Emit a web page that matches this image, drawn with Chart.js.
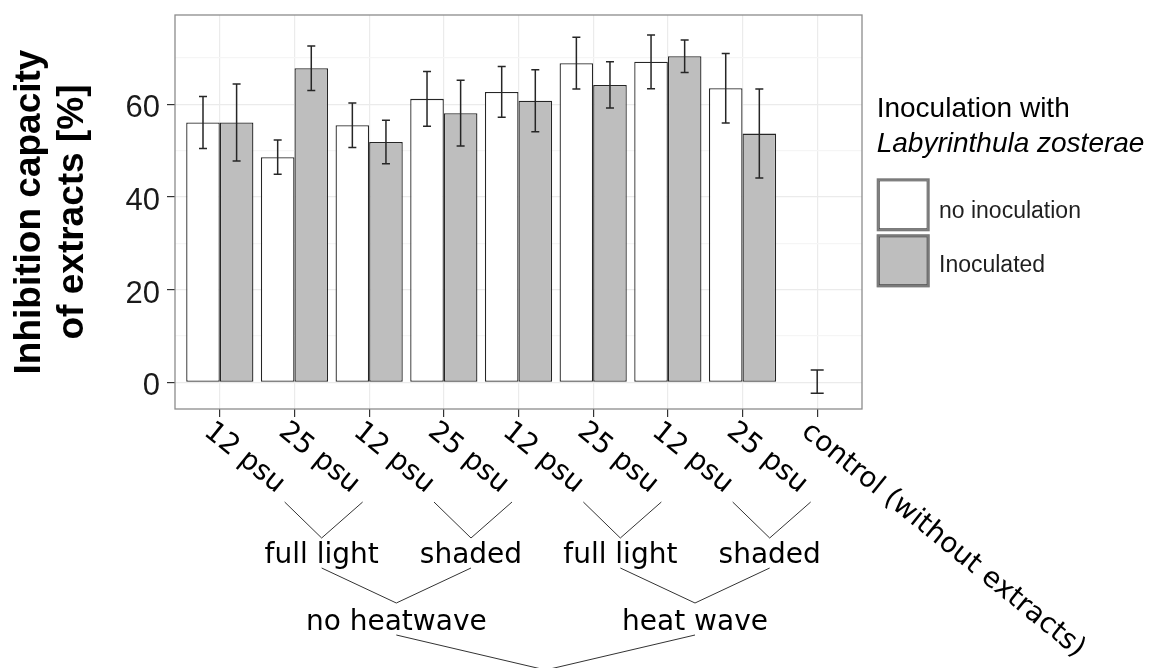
<!DOCTYPE html>
<html><head><meta charset="utf-8">
<script src="https://cdn.jsdelivr.net/npm/chart.js@4.4.1/dist/chart.umd.min.js"></script>
<style>html,body{margin:0;padding:0;background:#fff;}canvas{display:block;}</style>
</head><body>
<canvas id="c" width="1153" height="668"></canvas>
<script>
const categories = ['12 psu','25 psu','12 psu','25 psu','12 psu','25 psu','12 psu','25 psu','control (without extracts)'];
const noInocMean = [56.1, 48.6, 55.5, 61.2, 62.7, 68.9, 69.2, 63.5];
const noInocErr  = [5.6, 3.7, 4.8, 5.9, 5.5, 5.6, 5.8, 7.5];
const inocMean   = [56.1, 67.8, 51.9, 58.1, 60.8, 64.2, 70.4, 53.7];
const inocErr    = [8.3, 4.8, 4.7, 7.1, 6.7, 5.0, 3.5, 9.6];
const controlMean = 0.15;
const controlErr  = 2.5;
const yTicks = [0, 20, 40, 60];
const lightGroups = [
  {label: 'full light', from: 0, to: 1},
  {label: 'shaded', from: 2, to: 3},
  {label: 'full light', from: 4, to: 5},
  {label: 'shaded', from: 6, to: 7}
];
const heatGroups = [
  {label: 'no heatwave', from: 0, to: 1},
  {label: 'heat wave', from: 2, to: 3}
];
const seriesNames = ['no inoculation', 'Inoculated'];
const legendTitle = ['Inoculation with', 'Labyrinthula zosterae'];
const yTitle = ['Inhibition capacity', 'of extracts [%]'];

const WHITE = '#ffffff', GREY = '#bebebe', EDGE = '#262626';

const annot = {
  id: 'annot',
  afterDatasetsDraw(chart) {
    const ctx = chart.ctx, xs = chart.scales.x, ys = chart.scales.y;
    ctx.save();
    ctx.strokeStyle = '#262626';
    ctx.lineWidth = 1.5;
    const drawErr = (x, m, e, cap) => {
      const yt = ys.getPixelForValue(m + e), yb = ys.getPixelForValue(m - e);
      ctx.beginPath();
      ctx.moveTo(x, yt); ctx.lineTo(x, yb);
      ctx.moveTo(x - cap, yt); ctx.lineTo(x + cap, yt);
      ctx.moveTo(x - cap, yb); ctx.lineTo(x + cap, yb);
      ctx.stroke();
    };
    const means = [noInocMean, inocMean], errs = [noInocErr, inocErr];
    [0, 1].forEach(d => {
      chart.getDatasetMeta(d).data.forEach((el, i) => drawErr(el.x, means[d][i], errs[d][i], 4));
    });
    drawErr(xs.getPixelForValue(categories.length), controlMean, controlErr, 6.5);
    ctx.restore();
  },
  afterDraw(chart) {
    const ctx = chart.ctx, xs = chart.scales.x, a = chart.chartArea;
    ctx.save();
    // panel border
    ctx.strokeStyle = '#8c8c8c';
    ctx.lineWidth = 1.3;
    ctx.strokeRect(a.left, a.top, a.right - a.left, a.bottom - a.top);

    // rotated tick labels
    const B = a.bottom;
    ctx.fillStyle = '#000';
    ctx.font = '28px "DejaVu Sans"';
    ctx.textAlign = 'left';
    ctx.textBaseline = 'alphabetic';
    const ang = 39 * Math.PI / 180;
    categories.forEach((c, i) => {
      const x = xs.getPixelForValue(i + 1);
      ctx.save();
      ctx.translate(x - 17, B + 25);
      ctx.rotate(ang);
      ctx.fillText(c, 0, 0);
      ctx.restore();
    });

    // brackets and group labels
    const px = i => xs.getPixelForValue(i + 1);
    const shift = 64.5;
    ctx.strokeStyle = '#333';
    ctx.lineWidth = 1;
    ctx.font = '28px "DejaVu Sans"';
    ctx.textAlign = 'center';
    const gx = lightGroups.map(g => (px(g.from) + px(g.to)) / 2 + shift);
    lightGroups.forEach((g, k) => {
      const x = gx[k];
      ctx.beginPath();
      ctx.moveTo(x - 37, B + 93); ctx.lineTo(x, B + 129); ctx.lineTo(x + 41, B + 93);
      ctx.stroke();
      ctx.fillText(g.label, x, B + 154);
    });
    const hx = heatGroups.map(h => (gx[h.from] + gx[h.to]) / 2);
    heatGroups.forEach((h, k) => {
      const x = hx[k];
      ctx.beginPath();
      ctx.moveTo(gx[h.from], B + 159); ctx.lineTo(x, B + 194); ctx.lineTo(gx[h.to], B + 159);
      ctx.stroke();
      ctx.fillText(h.label, x, B + 221);
    });
    const mid = (hx[0] + hx[1]) / 2;
    ctx.beginPath();
    ctx.moveTo(hx[0], B + 226); ctx.lineTo(mid, B + 261); ctx.lineTo(hx[1], B + 226);
    ctx.stroke();

    // legend
    const L = a.right + 14.7;
    ctx.textAlign = 'left';
    ctx.fillStyle = '#000';
    ctx.font = '28px "Liberation Sans"';
    ctx.fillText(legendTitle[0], L, 116.7);
    ctx.font = 'italic 28px "Liberation Sans"';
    ctx.fillText(legendTitle[1], L, 151.7);
    const keys = [{fill: WHITE, y: 178.3, ty: 217.5}, {fill: GREY, y: 234.3, ty: 271.7}];
    ctx.font = '23px "Liberation Sans"';
    keys.forEach((k, i) => {
      ctx.fillStyle = k.fill;
      ctx.fillRect(L, k.y, 53, 53);
      ctx.strokeStyle = '#7a7a7a';
      ctx.lineWidth = 2.2;
      ctx.strokeRect(L + 1.1, k.y + 1.1, 50.8, 50.8);
      ctx.strokeStyle = '#444';
      ctx.lineWidth = 0.8;
      ctx.strokeRect(L + 2.6, k.y + 2.6, 47.8, 47.8);
      ctx.fillStyle = '#1f1f1f';
      ctx.fillText(seriesNames[i], L + 62.3, k.ty);
    });
    ctx.restore();
  }
};

new Chart(document.getElementById('c'), {
  type: 'bar',
  data: {
    datasets: [
      {label: seriesNames[0], data: noInocMean.map((v, i) => ({x: i + 1, y: v})),
       backgroundColor: WHITE, borderColor: EDGE, borderWidth: 1.3, borderSkipped: false},
      {label: seriesNames[1], data: inocMean.map((v, i) => ({x: i + 1, y: v})),
       backgroundColor: GREY, borderColor: EDGE, borderWidth: 1.3, borderSkipped: false}
    ]
  },
  options: {
    responsive: false,
    animation: false,
    devicePixelRatio: 1,
    categoryPercentage: 0.9,
    barPercentage: 1.0,
    layout: {padding: {left: 0, top: 15, right: 291, bottom: 0}},
    plugins: {legend: {display: false}, tooltip: {enabled: false}},
    scales: {
      x: {
        type: 'linear', min: 0.4, max: 9.6, offset: false,
        afterFit: s => { s.height = 259; s.paddingLeft = 0; s.paddingRight = 0; },
        ticks: {stepSize: 1, includeBounds: false, display: false, autoSkip: false},
        grid: {offset: false, color: '#ebebeb', lineWidth: 1.2, tickLength: 8, tickColor: '#333', tickWidth: 1.2},
        border: {display: false}
      },
      y: {
        min: -5.76, max: 79.3,
        afterFit: s => { s.width = 175; s.paddingTop = 0; s.paddingBottom = 0; },
        ticks: {stepSize: 10, includeBounds: false, autoSkip: false, padding: 7, labelOffset: 4.5, color: '#1a1a1a',
                font: {family: '"Liberation Sans"', size: 31},
                callback: v => yTicks.includes(v) ? String(v) : ''},
        grid: {
          color: c => yTicks.includes(c.tick.value) ? '#ebebeb' : '#f5f5f5',
          lineWidth: 1.2, tickLength: 8,
          tickColor: c => yTicks.includes(c.tick.value) ? '#333' : 'rgba(0,0,0,0)',
          tickWidth: 1.2
        },
        border: {display: false},
        title: {display: true, text: yTitle, color: '#000',
                font: {family: '"Liberation Sans"', size: 37, weight: 'bold', lineHeight: 1.17},
                padding: {top: 8, bottom: 0}}
      }
    }
  },
  plugins: [annot]
});
</script>
</body></html>
